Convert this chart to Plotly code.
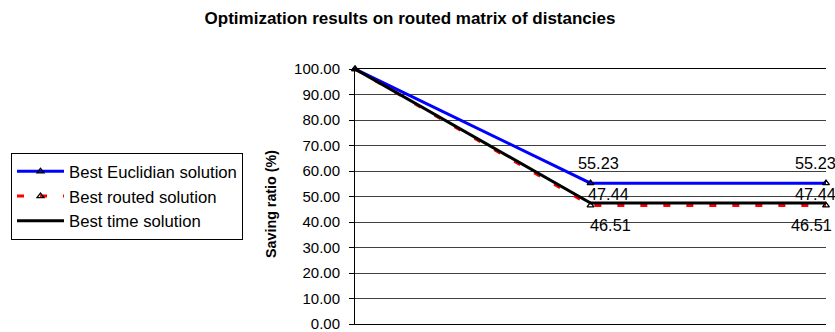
import plotly.graph_objects as go

categories = [0, 1, 2]
euclid = [100.0, 55.23, 55.23]
routed = [100.0, 46.51, 46.51]
timesol = [100.0, 47.44, 47.44]
ytick_vals = [0, 10, 20, 30, 40, 50, 60, 70, 80, 90, 100]
ytick_text = [f"{v:.2f}" for v in ytick_vals]

W, H = 835, 332
PL, PR, PT, PB = 355, 826, 69, 324  # plot area in page pixels
pw = PR - PL
ph = PB - PT

FAM = "Liberation Sans, Arial, sans-serif"
font = dict(family=FAM, size=15, color="black")
lblfont = dict(family=FAM, size=16.3, color="black")

fig = go.Figure()
fig.add_trace(go.Scatter(
    x=categories, y=euclid, name="Best Euclidian solution", legendgroup="a",
    mode="lines+markers",
    line=dict(color="#0000ff", width=3),
    marker=dict(symbol="triangle-up-open", color="black", size=6, line=dict(width=1.3)),
    cliponaxis=False))
fig.add_trace(go.Scatter(
    x=categories, y=routed, name="Best routed solution", legendgroup="b",
    mode="lines+markers",
    line=dict(color="#ff0000", width=3, dash="7px,16px"),
    marker=dict(symbol="triangle-up-open", color="black", size=6, line=dict(width=1.3)),
    cliponaxis=False))
fig.add_trace(go.Scatter(
    x=categories, y=timesol, name="Best time solution", legendgroup="c",
    mode="lines",
    line=dict(color="black", width=3),
    cliponaxis=False))

annotations = []
for i, (xs, ys) in zip([1, 2], [(8, 20), (-11, 20)]):
    annotations.append(dict(x=categories[i], y=euclid[i], text=f"{euclid[i]:.2f}",
                            xref="x", yref="y", showarrow=False, font=lblfont,
                            xshift=xs, yshift=ys))
for i, (xs, ys) in zip([1, 2], [(18, 9), (-11, 9)]):
    annotations.append(dict(x=categories[i], y=timesol[i], text=f"{timesol[i]:.2f}",
                            xref="x", yref="y", showarrow=False, font=lblfont,
                            xshift=xs, yshift=ys))
for i, (xs, ys) in zip([1, 2], [(20, -20), (-15, -20)]):
    annotations.append(dict(x=categories[i], y=routed[i], text=f"{routed[i]:.2f}",
                            xref="x", yref="y", showarrow=False, font=lblfont,
                            xshift=xs, yshift=ys))
annotations.append(dict(x=(271 - PL) / pw, y=(PB - 204) / ph, xref="paper", yref="paper",
                        text="<b>Saving ratio (%)</b>", textangle=-90, showarrow=False,
                        font=dict(family=FAM, size=14.3, color="black"),
                        xanchor="center", yanchor="middle"))

fig.update_layout(
    width=W, height=H,
    margin=dict(l=PL, r=W - PR, t=PT, b=H - PB, pad=0, autoexpand=False),
    paper_bgcolor="white", plot_bgcolor="white",
    font=font,
    title=dict(text="<b>Optimization results on routed matrix of distancies</b>",
               x=410 / W, xanchor="center", y=1 - 18 / H, yanchor="middle",
               yref="container", xref="container",
               font=dict(family=FAM, size=17, color="black")),
    showlegend=True,
    legend=dict(x=(11 - PL) / pw, y=(PB - 153) / ph, xanchor="left", yanchor="top",
                bordercolor="black", borderwidth=1, bgcolor="white",
                font=dict(family=FAM, size=16.7, color="black"),
                itemwidth=47, tracegroupgap=0),
    annotations=annotations,
    xaxis=dict(range=[0, 2], showticklabels=False, showgrid=False, zeroline=False,
               showline=True, linecolor="black", linewidth=1, mirror=True, ticks="",
               automargin=False),
    yaxis=dict(range=[0, 100], tickvals=ytick_vals, ticktext=ytick_text,
               showgrid=True, gridcolor="#404040", gridwidth=1, zeroline=False,
               showline=True, linecolor="black", linewidth=1, mirror=False,
               ticks="outside", ticklen=5, tickcolor="black",
               ticklabelstandoff=6, ticklabeloverflow="allow", automargin=False),
)

fig.write_html(
    "out.html",
    config={"displayModeBar": False},
    post_script="document.body.style.margin='0';document.body.style.overflow='hidden';",
)
